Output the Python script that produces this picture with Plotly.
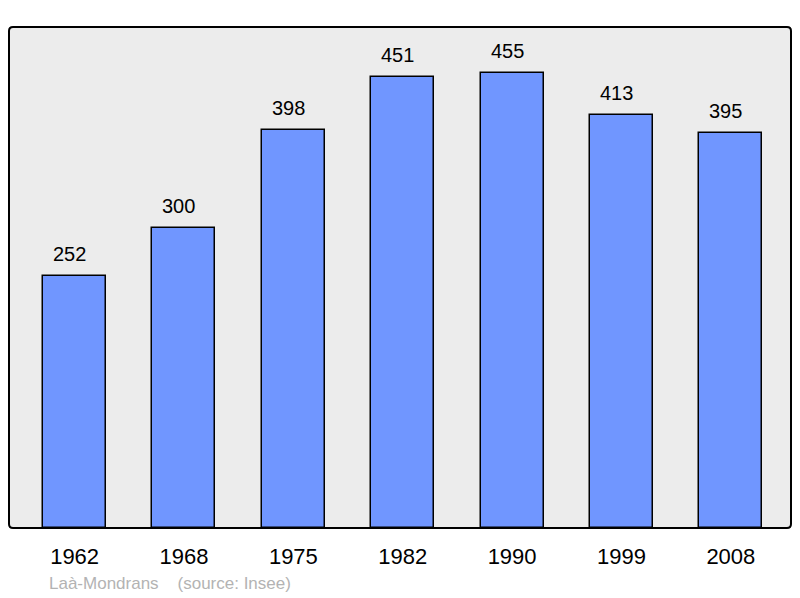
import plotly.graph_objects as go

years = ["1962", "1968", "1975", "1982", "1990", "1999", "2008"]
population = [252, 300, 398, 451, 455, 413, 395]
commune = "Laà-Mondrans"
source = "(source: Insee)"

W, H = 800, 598
L, R, T, B = 9, 9, 27, 70

fig = go.Figure()
fig.add_trace(go.Bar(
    x=years, y=population, width=0.576,
    marker=dict(color="#7096ff", line=dict(color="black", width=1.5)),
    hoverinfo="x+y",
))

annots = []
for i, v in enumerate(population):
    annots.append(dict(x=i, y=v, xref="x", yref="y", text=str(v), showarrow=False,
                       yshift=22, xshift=-5,
                       font=dict(family="Liberation Sans, Arial", size=20, color="black")))

pw, ph = W - L - R, H - T - B
annots.append(dict(xref="paper", yref="paper", x=(47 - L) / pw,
                   y=-(583 - (H - B)) / ph,
                   xanchor="left", yanchor="middle", showarrow=False,
                   text=f"{commune}&nbsp;&nbsp;&nbsp;&nbsp;{source}",
                   font=dict(family="Liberation Sans, Arial", size=17, color="#b3b3b3")))

# rounded border of plot area
rx, ry = 4 / pw, 4 / ph
path = (f"M {rx},0 L {1-rx},0 Q 1,0 1,{ry} L 1,{1-ry} Q 1,1 {1-rx},1 "
        f"L {rx},1 Q 0,1 0,{1-ry} L 0,{ry} Q 0,0 {rx},0 Z")

fig.update_layout(
    width=W, height=H,
    margin=dict(l=L, r=R, t=T, b=B, pad=0, autoexpand=False),
    paper_bgcolor="white", plot_bgcolor="#ececec",
    showlegend=False,
    bargap=0,
    annotations=annots,
    shapes=[dict(type="path", path=path, xref="paper", yref="paper",
                 line=dict(color="black", width=2), layer="above")],
    xaxis=dict(type="category", range=[-0.60, 6.55], showgrid=False, zeroline=False,
               showline=False, ticks="outside", ticklen=9, tickcolor="rgba(0,0,0,0)",
               tickfont=dict(family="Liberation Sans, Arial", size=22, color="black")),
    yaxis=dict(range=[0, 501], showgrid=False, zeroline=False, showticklabels=False,
               showline=False, ticks=""),
    font=dict(family="Liberation Sans, Arial"),
)

fig.write_html("out.html", config={"displayModeBar": False},
               post_script="document.body.style.margin='0';")
